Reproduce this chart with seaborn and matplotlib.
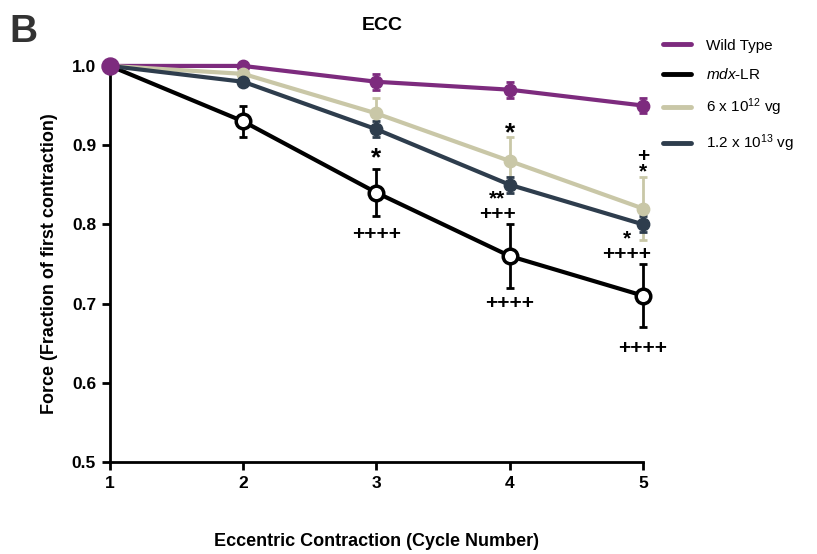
import matplotlib
matplotlib.use("Agg")
import matplotlib.pyplot as plt
import seaborn as sns
import pandas as pd
import numpy as np
from matplotlib.lines import Line2D

cycles = [1, 2, 3, 4, 5]
wt = [1.0, 1.0, 0.98, 0.97, 0.95]
wt_err = [0.0, 0.005, 0.01, 0.01, 0.01]
mdx = [1.0, 0.93, 0.84, 0.76, 0.71]
mdx_err = [0.0, 0.02, 0.03, 0.04, 0.04]
low = [1.0, 0.99, 0.94, 0.88, 0.82]
low_err = [0.0, 0.005, 0.02, 0.03, 0.04]
high = [1.0, 0.98, 0.92, 0.85, 0.80]
high_err = [0.0, 0.005, 0.01, 0.01, 0.01]
labels = ["Wild Type", r"$\it{mdx}$-LR", r"6 x 10$^{12}$ vg", r"1.2 x 10$^{13}$ vg"]
colors = ["#7D2B7E", "#000000", "#C9C7A7", "#2E3D4D"]

sns.set_style("ticks")
plt.rcParams['font.family'] = ['Liberation Sans', 'DejaVu Sans']
plt.rcParams['mathtext.fontset'] = 'custom'
plt.rcParams['mathtext.rm'] = 'Liberation Sans'
plt.rcParams['mathtext.it'] = 'Liberation Sans:italic'
for k in ['text.color', 'axes.labelcolor', 'xtick.color', 'ytick.color', 'axes.edgecolor']:
    plt.rcParams[k] = 'black'

df = pd.DataFrame({
    "cycle": cycles * 4,
    "force": wt + mdx + low + high,
    "group": sum([[l] * 5 for l in labels], []),
})

fig = plt.figure(figsize=(8.17, 5.54), dpi=100)
ax = fig.add_axes([0.1346, 0.166, 0.6524, 0.715])

series = [(wt, wt_err), (mdx, mdx_err), (low, low_err), (high, high_err)]
order = [0, 2, 3, 1]
for i in order:
    vals, err = series[i]
    ax.errorbar(cycles, vals, yerr=err, fmt='none', ecolor=colors[i], elinewidth=2,
                capsize=3, capthick=2, zorder=2 + i * 0.1, clip_on=False)

sns.lineplot(data=df, x="cycle", y="force", hue="group", palette=colors,
             hue_order=labels, linewidth=3, ax=ax, legend=False, zorder=3)
for ln in ax.lines:
    ln.set_clip_on(False)

for i in order:
    vals, _ = series[i]
    if i == 1:
        ax.scatter(cycles[1:], vals[1:], s=110, facecolor="white", edgecolor="black",
                   linewidth=2.5, zorder=5, clip_on=False)
    else:
        ax.scatter(cycles[1:], vals[1:], s=80, color=colors[i], zorder=4 + i * 0.1, clip_on=False)
ax.scatter([1], [1.0], s=150, color=colors[0], zorder=6, clip_on=False)

ax.set_xlim(1, 5)
ax.set_ylim(0.5, 1.0)
ax.set_xticks([1, 2, 3, 4, 5])
ax.set_yticks([0.5, 0.6, 0.7, 0.8, 0.9, 1.0])
ax.set_yticklabels(["0.5", "0.6", "0.7", "0.8", "0.9", "1.0"])
for s in ["top", "right"]:
    ax.spines[s].set_visible(False)
for s in ["left", "bottom"]:
    ax.spines[s].set_linewidth(2)
ax.tick_params(width=2, length=6, labelsize=12.5, pad=4)
for t in ax.get_xticklabels() + ax.get_yticklabels():
    t.set_fontweight("bold")

ax.set_xlabel("Eccentric Contraction (Cycle Number)", fontsize=13, fontweight="bold", labelpad=30)
ax.set_ylabel("Force (Fraction of first contraction)", fontsize=13, fontweight="bold", labelpad=10)
ax.set_title("ECC", fontsize=14, fontweight="bold", pad=26, x=0.51)
fig.text(0.012, 0.925, "B", fontsize=28, fontweight="bold", color="#333333")

# significance annotations (stacked marks drawn as one multi-line text)
ann = [
    (3, 0.884, "*", 19), (3, 0.787, "++++", 15),
    (4, 0.915, "*", 19), (3.905, 0.822, "**\n+++", 15), (4, 0.700, "++++", 15),
    (5, 0.876, "+\n*", 15), (4.88, 0.772, "*\n++++", 15), (5, 0.643, "++++", 15),
]
for x, y, t, fs in ann:
    ax.text(x, y, t, ha="center", va="center", fontsize=fs, fontweight="bold",
            linespacing=0.8, zorder=7)

handles = [Line2D([], [], color=c, linewidth=3.5) for c in colors]
fig.legend(handles, labels, loc="upper left", bbox_to_anchor=(0.795, 0.955), frameon=False,
           fontsize=11, handlelength=1.8, labelspacing=0.95, handletextpad=1.0)

fig.savefig("out.png", dpi=100)
